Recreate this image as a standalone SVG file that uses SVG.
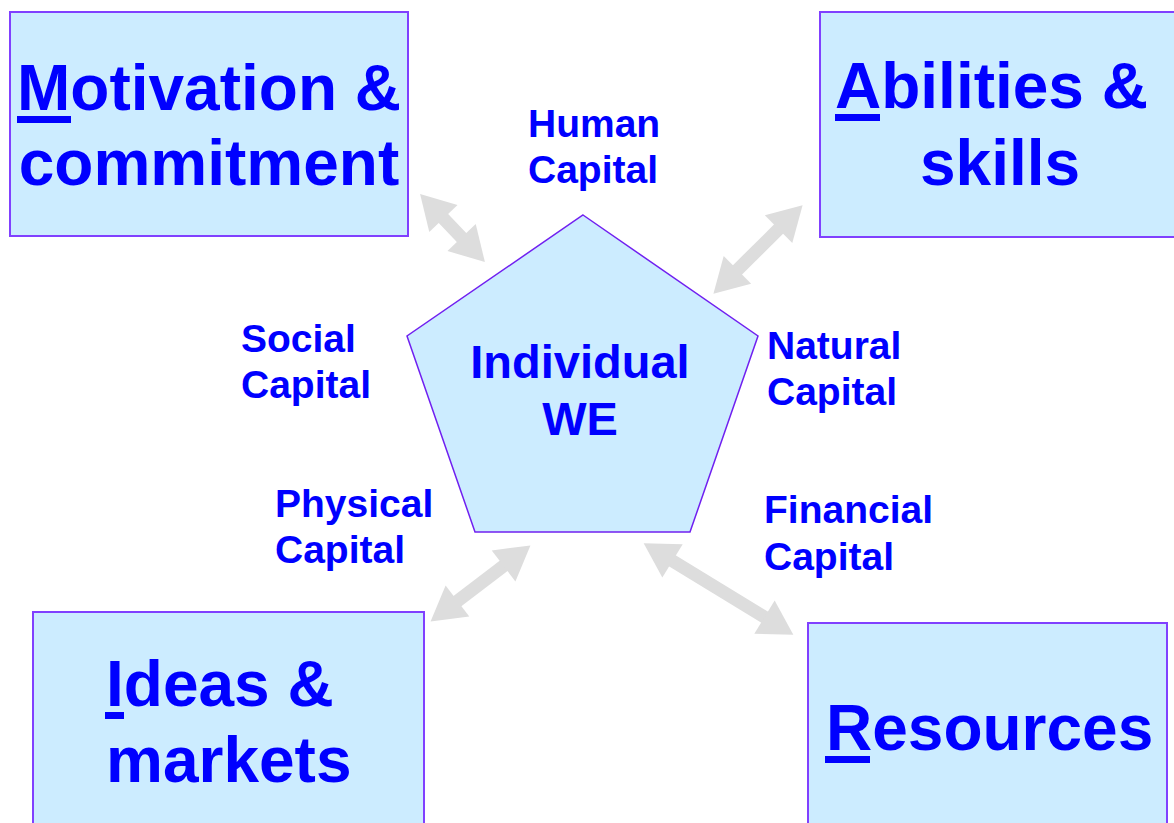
<svg xmlns="http://www.w3.org/2000/svg" width="1174" height="823" viewBox="0 0 1174 823">
<style>
.box{fill:#CCECFF;stroke:#8040FF;stroke-width:2}
.pent{fill:#CCECFF;stroke:#7020F0;stroke-width:1.5}
.big{font-family:"Liberation Sans",Arial,sans-serif;font-weight:bold;font-size:64px;fill:#0000FF}
.mid{font-family:"Liberation Sans",Arial,sans-serif;font-weight:bold;font-size:47px;fill:#0000FF}
.lab{font-family:"Liberation Sans",Arial,sans-serif;font-weight:bold;font-size:39px;fill:#0000FF}
.ul{fill:#0000FF}
.arr{stroke:#DDDDDD;stroke-width:13;fill:none;marker-start:url(#ah);marker-end:url(#ah)}
</style>
<defs>
<marker id="ah" markerUnits="strokeWidth" markerWidth="3" markerHeight="3" viewBox="0 -1.5 3 3" refX="0.1" refY="0" orient="auto-start-reverse" overflow="visible">
<path d="M0,-1.5 L2.6,0 L0,1.5 z" fill="#DDDDDD"/>
</marker>
</defs>
<rect width="1174" height="823" fill="#FFFFFF"/>
<g id="connectors">
<line class="arr" x1="442.5" y1="217.5" x2="462.5" y2="238.5"/>
<line class="arr" x1="779.5" y1="228.2" x2="736.5" y2="270.8"/>
<line class="arr" x1="504.6" y1="565.1" x2="456.4" y2="601.9"/>
<line class="arr" x1="671.4" y1="560.2" x2="765.6" y2="617.8"/>
</g>
<g id="motivation">
<rect class="box" x="10" y="12" width="398" height="224"/>
<text class="big" x="209" y="110" text-anchor="middle">Motivation &amp;</text>
<text class="big" x="209" y="185" text-anchor="middle">commitment</text>
<rect class="ul" x="17" y="116" width="54" height="7"/>
</g>
<g id="abilities">
<rect class="box" x="820" y="12" width="360" height="225"/>
<text class="big" x="835" y="108">Abilities &amp;</text>
<text class="big" x="920" y="185">skills</text>
<rect class="ul" x="835" y="114" width="45" height="7"/>
</g>
<g id="ideas">
<rect class="box" x="33" y="612" width="391" height="220"/>
<text class="big" x="106" y="706">Ideas &amp;</text>
<text class="big" x="106" y="782">markets</text>
<rect class="ul" x="105" y="712" width="19" height="7"/>
</g>
<g id="resources">
<rect class="box" x="808" y="623" width="359" height="210"/>
<text class="big" x="826" y="750">Resources</text>
<rect class="ul" x="825" y="756" width="45" height="7"/>
</g>
<g id="individual">
<polygon class="pent" points="583,215 758,336 690,532 475,532 407,336"/>
<text class="mid" x="580" y="378" text-anchor="middle">Individual</text>
<text class="mid" x="580" y="435" text-anchor="middle">WE</text>
</g>
<g id="human">
<text class="lab" x="528" y="137">Human</text>
<text class="lab" x="528" y="183">Capital</text>
</g>
<g id="social">
<text class="lab" x="241" y="352">Social</text>
<text class="lab" x="241" y="398">Capital</text>
</g>
<g id="natural">
<text class="lab" x="767" y="359">Natural</text>
<text class="lab" x="767" y="405">Capital</text>
</g>
<g id="physical">
<text class="lab" x="275" y="517">Physical</text>
<text class="lab" x="275" y="563">Capital</text>
</g>
<g id="financial">
<text class="lab" x="764" y="523">Financial</text>
<text class="lab" x="764" y="570">Capital</text>
</g>
</svg>
